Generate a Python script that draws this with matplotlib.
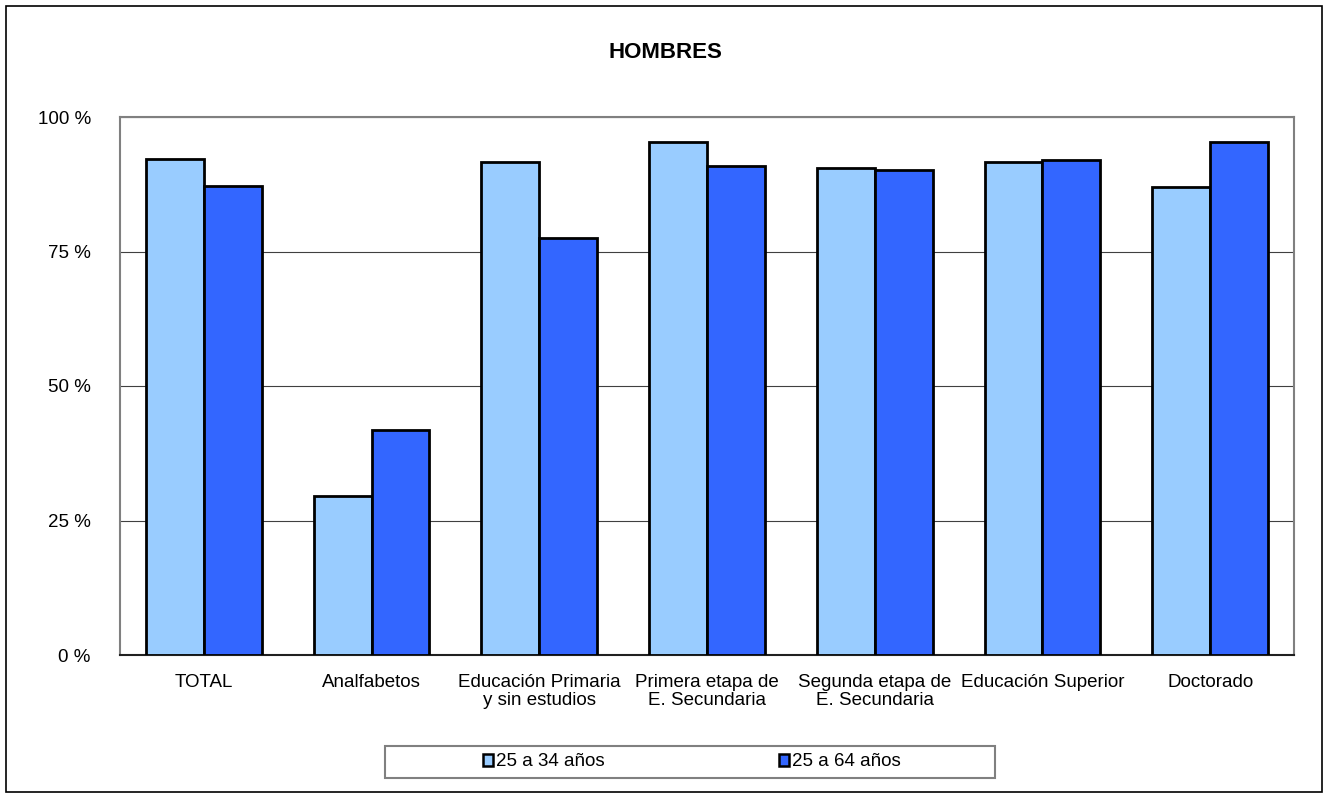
import matplotlib.pyplot as plt
from matplotlib.patches import Rectangle
import numpy as np

plt.rcParams['font.family'] = ['Liberation Sans', 'DejaVu Sans']

categorias = ["TOTAL", "Analfabetos", "Educación Primaria\ny sin estudios",
              "Primera etapa de\nE. Secundaria", "Segunda etapa de\nE. Secundaria",
              "Educación Superior", "Doctorado"]
jovenes = [92.2, 29.6, 91.6, 95.4, 90.5, 91.6, 87.0]
todos = [87.2, 41.8, 77.5, 90.9, 90.1, 92.0, 95.4]
yticks = [0, 25, 50, 75, 100]

fig = plt.figure(figsize=(13.25, 7.94), dpi=100)
ax = fig.add_axes([120 / 1325, 1 - 655 / 794, 1174 / 1325, 538 / 794])

x = np.arange(len(categorias))
w = 0.345
ax.bar(x - w / 2, jovenes, w, color="#99CCFF", edgecolor="black", linewidth=2,
       label="25 a 34 años", zorder=3)
ax.bar(x + w / 2, todos, w, color="#3366FF", edgecolor="black", linewidth=2,
       label="25 a 64 años", zorder=3)

ax.set_xlim(-0.5, len(categorias) - 0.5)
ax.set_ylim(0, 100)
ax.set_yticks(yticks)
ax.set_yticklabels([f"{v} %" for v in yticks], fontsize=13.5)
ax.set_xticks(x)
ax.set_xticklabels(categorias, fontsize=13.5, linespacing=1.05)
ax.tick_params(axis="y", length=0, pad=21)
ax.tick_params(axis="x", length=0, pad=14)
ax.yaxis.grid(True, color="#404040", linewidth=0.8, zorder=0)
for s in ax.spines.values():
    s.set_color("#808080")
    s.set_linewidth(1.5)
ax.spines["bottom"].set_color("#202020")

fig.text(665 / 1325, 1 - 52 / 794, "HOMBRES", ha="center", va="center",
         fontsize=16, fontweight="bold")

leg = ax.legend(loc="center", bbox_to_anchor=(692 / 1325, 1 - 762 / 794),
                bbox_transform=fig.transFigure, ncol=2, fontsize=13.5,
                frameon=False, handlelength=0.55, handleheight=0.55, handletextpad=0.15,
                columnspacing=9.3, borderaxespad=0, borderpad=0)
for h in leg.legend_handles:
    h.set_linewidth(1.8)

fig.patches.append(Rectangle((385 / 1325, 1 - 778 / 794), 610 / 1325, 32 / 794,
                             transform=fig.transFigure, fill=False,
                             edgecolor="#808080", linewidth=1.5))
fig.patches.append(Rectangle((6 / 1325, 2 / 794), 1316 / 1325, 786 / 794, transform=fig.transFigure,
                             fill=False, edgecolor="black", linewidth=1.2))

fig.savefig("out.png", dpi=100)
